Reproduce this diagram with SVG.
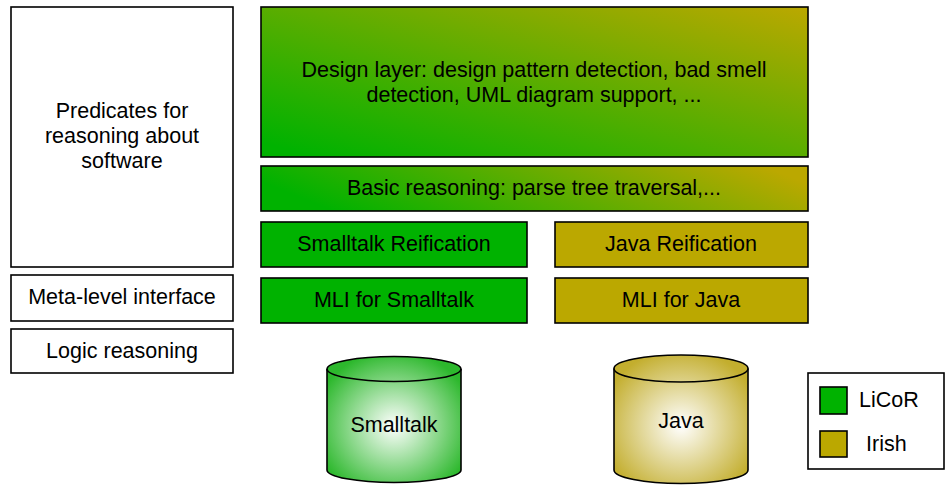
<svg xmlns="http://www.w3.org/2000/svg" width="946" height="487" viewBox="0 0 946 487">
  <defs>
    <linearGradient id="layerGrad" x1="0" y1="1" x2="1" y2="0">
      <stop offset="0.05" stop-color="#00B200"/>
      <stop offset="1" stop-color="#BBA800"/>
    </linearGradient>
    <linearGradient id="basicGrad" x1="0" y1="0.6" x2="1" y2="0.4">
      <stop offset="0.05" stop-color="#00B200"/>
      <stop offset="1" stop-color="#BBA800"/>
    </linearGradient>
    <radialGradient id="greenDb" cx="0.5" cy="0.55" r="0.6">
      <stop offset="0" stop-color="#FFFFFF"/>
      <stop offset="1" stop-color="#2DB82D"/>
    </radialGradient>
    <radialGradient id="oliveDb" cx="0.5" cy="0.55" r="0.6">
      <stop offset="0" stop-color="#FFFFFF"/>
      <stop offset="1" stop-color="#C3AE2E"/>
    </radialGradient>
  </defs>
  <style>
    .box { stroke: #000; stroke-width: 1.6; }
    .plain { fill: #FFFFFF; }
    .licor { fill: #00B200; }
    .irish { fill: #BBA800; }
    text { font-family: "Liberation Sans", Arial, sans-serif; font-size: 21.5px; fill: #000; text-anchor: middle; }
    .left { text-anchor: start; }
  </style>

  <rect width="946" height="487" fill="#FFFFFF"/>

  <!-- left column: general-purpose layers -->
  <g id="predicates">
    <rect class="box plain" x="11" y="7" width="222" height="260"/>
    <text x="122" y="118">Predicates for</text>
    <text x="122" y="143">reasoning about</text>
    <text x="122" y="168">software</text>
  </g>
  <g id="meta-level-interface">
    <rect class="box plain" x="11" y="275" width="222" height="46"/>
    <text x="122" y="304">Meta-level interface</text>
  </g>
  <g id="logic-reasoning">
    <rect class="box plain" x="11" y="329" width="222" height="44"/>
    <text x="122" y="358">Logic reasoning</text>
  </g>

  <!-- shared layers -->
  <g id="design-layer">
    <rect class="box" fill="url(#layerGrad)" x="261" y="7" width="547" height="150"/>
    <text x="534" y="77">Design layer: design pattern detection, bad smell</text>
    <text x="534" y="102">detection, UML diagram support, ...</text>
  </g>
  <g id="basic-reasoning">
    <rect class="box" fill="url(#basicGrad)" x="261" y="166" width="547" height="45"/>
    <text x="534" y="195">Basic reasoning: parse tree traversal,...</text>
  </g>

  <!-- language-specific layers -->
  <g id="smalltalk-reification">
    <rect class="box licor" x="261" y="222" width="266" height="45"/>
    <text x="394" y="251">Smalltalk Reification</text>
  </g>
  <g id="java-reification">
    <rect class="box irish" x="555" y="222" width="253" height="45"/>
    <text x="681" y="251">Java Reification</text>
  </g>
  <g id="mli-smalltalk">
    <rect class="box licor" x="261" y="278" width="266" height="45"/>
    <text x="394" y="307">MLI for Smalltalk</text>
  </g>
  <g id="mli-java">
    <rect class="box irish" x="555" y="278" width="253" height="45"/>
    <text x="681" y="307">MLI for Java</text>
  </g>

  <!-- code repositories -->
  <g id="smalltalk-db">
    <path class="box" fill="url(#greenDb)" d="M327 369 A67 12.5 0 0 1 461 369 L461 470 A67 12.5 0 0 1 327 470 Z"/>
    <path fill="none" stroke="#000" stroke-width="1.6" d="M327 369 A67 12.5 0 0 0 461 369"/>
    <text x="394" y="432">Smalltalk</text>
  </g>
  <g id="java-db">
    <path class="box" fill="url(#oliveDb)" d="M614 368.5 A67 13.5 0 0 1 748 368.5 L748 470 A67 13.5 0 0 1 614 470 Z"/>
    <path fill="none" stroke="#000" stroke-width="1.6" d="M614 368.5 A67 13.5 0 0 0 748 368.5"/>
    <text x="681" y="428">Java</text>
  </g>

  <!-- legend -->
  <g id="legend">
    <rect class="box plain" x="808" y="373" width="136" height="96"/>
    <rect class="box licor" x="820" y="387" width="27" height="27"/>
    <text class="left" x="859" y="407">LiCoR</text>
    <rect class="box irish" x="820" y="431" width="27" height="26"/>
    <text class="left" x="866" y="451">Irish</text>
  </g>
</svg>
